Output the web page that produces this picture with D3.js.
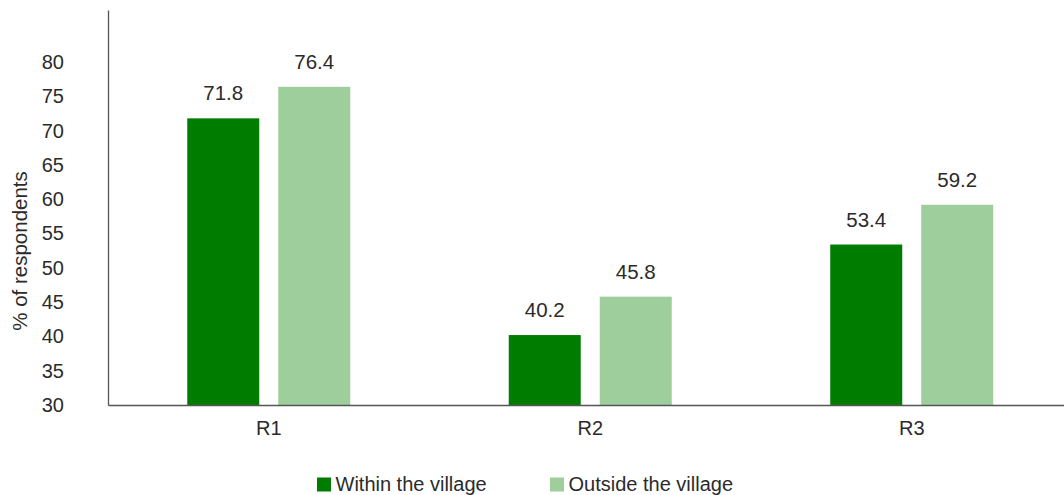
<!DOCTYPE html>
<html>
<head>
<meta charset="utf-8">
<script src="https://cdn.jsdelivr.net/npm/d3@7"></script>
<style>
  html, body { margin: 0; padding: 0; background: #fff; }
  svg text { font-family: "Liberation Sans", Arial, sans-serif; fill: #2b2b2b; }
</style>
</head>
<body>
<svg id="chart" width="1064" height="495"></svg>
<script>
// Categories and series
const categories = ["R1", "R2", "R3"];
const seriesNames = ["Within the village", "Outside the village"];
const withinVillage = [71.8, 40.2, 53.4];
const outsideVillage = [76.4, 45.8, 59.2];
const yTicks = [30, 35, 40, 45, 50, 55, 60, 65, 70, 75, 80];
const seriesColors = ["#007c00", "#9dce9c"];

const rows = categories.map((c, i) => ({
  cat: c,
  values: [
    { key: seriesNames[0], value: withinVillage[i] },
    { key: seriesNames[1], value: outsideVillage[i] }
  ]
}));

const svg = d3.select("#chart");

const x0 = d3.scaleBand().domain(categories).range([108, 1072.5]).padding(0);
const groupW = 163;
const x1 = d3.scaleBand().domain(seriesNames)
  .range([(x0.bandwidth() - groupW) / 2, (x0.bandwidth() + groupW) / 2])
  .paddingInner(19 / 91).paddingOuter(0);
const y = d3.scaleLinear().domain([30, 87.6]).range([405, 10]);
const color = d3.scaleOrdinal().domain(seriesNames).range(seriesColors);

// Bars
const groups = svg.append("g").selectAll("g").data(rows).join("g")
  .attr("transform", d => `translate(${x0(d.cat)},0)`);

groups.selectAll("rect").data(d => d.values).join("rect")
  .attr("x", d => x1(d.key))
  .attr("width", x1.bandwidth())
  .attr("y", d => y(d.value))
  .attr("height", d => y(30) - y(d.value))
  .attr("fill", d => color(d.key));

// Value labels
groups.selectAll("text.val").data(d => d.values).join("text")
  .attr("class", "val")
  .attr("x", d => x1(d.key) + x1.bandwidth() / 2)
  .attr("y", d => y(d.value) - 18)
  .attr("text-anchor", "middle")
  .attr("font-size", 20.5)
  .text(d => d.value.toFixed(1));

// Y axis (labels only, no ticks)
const yAxis = svg.append("g")
  .attr("transform", "translate(108,0)")
  .call(d3.axisLeft(y).tickValues(yTicks).tickSize(0).tickPadding(44).tickFormat(d3.format("d")));
yAxis.select(".domain").attr("stroke", "#555").attr("stroke-width", 1.3);
yAxis.selectAll("text").attr("font-size", 20).attr("fill", "#2b2b2b")
  .attr("font-family", "'Liberation Sans', Arial, sans-serif");

// X axis
const xAxis = svg.append("g")
  .attr("transform", "translate(0,405)")
  .call(d3.axisBottom(x0).tickSize(0).tickPadding(16));
xAxis.select(".domain").attr("stroke", "#555").attr("stroke-width", 1.3);
xAxis.selectAll("text").attr("font-size", 20).attr("fill", "#2b2b2b")
  .attr("font-family", "'Liberation Sans', Arial, sans-serif");

// Y axis title
svg.append("text")
  .attr("transform", "translate(27,251) rotate(-90)")
  .attr("text-anchor", "middle")
  .attr("font-size", 20.5)
  .text("% of respondents");

// Legend
const legendX = [317, 550];
const legend = svg.append("g").selectAll("g").data(seriesNames).join("g")
  .attr("transform", (d, i) => `translate(${legendX[i]},477.5)`);
legend.append("rect").attr("width", 14).attr("height", 14).attr("fill", d => color(d));
legend.append("text").attr("x", 18.5).attr("y", 13).attr("font-size", 20).text(d => d);
</script>
</body>
</html>
